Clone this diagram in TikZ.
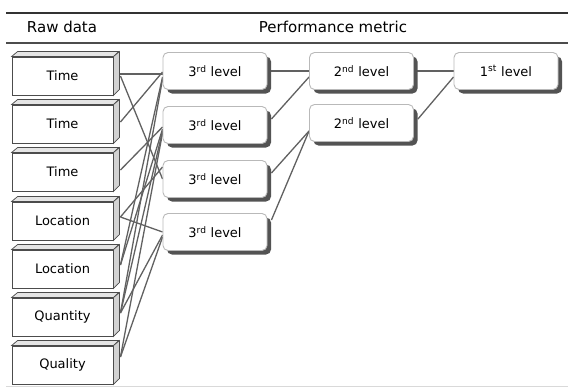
\documentclass[tikz,border=0pt]{standalone}
\usepackage{fontspec}
\setmainfont{DejaVu Sans}
\usetikzlibrary{shadows,backgrounds}
\tikzset{
  rawbox/.style={draw=gray!60!black, fill=white, line width=0.9pt, minimum width=101pt, minimum height=38pt, inner sep=0pt, font=\fontsize{13}{15}\selectfont},
  bevtop/.style={draw=gray!60!black, fill=gray!20, line width=0.7pt},
  bevside/.style={draw=gray!60!black, fill=gray!35, line width=0.7pt},
  lvlbox/.style={draw=gray!55, fill=white, rounded corners=5pt, line width=0.9pt, minimum width=104pt, minimum height=37pt, inner sep=0pt, font=\fontsize{13}{15}\selectfont, drop shadow={shadow xshift=4pt, shadow yshift=-4pt, fill=gray!65!black, opacity=1}},
  link/.style={draw=black!62, line width=1.3pt},
  hdr/.style={font=\fontsize{15}{17}\selectfont, inner sep=0pt},
  rule/.style={draw=black!80, line width=1.8pt}
}
\begin{document}
\begin{tikzpicture}[x=1pt,y=-1pt]
\useasboundingbox (0,0) rectangle (568,388);
% header
\draw[rule] (6,13) -- (568,13);
\draw[draw=gray!60!black, line width=2pt] (6,43) -- (568,43);
\draw[draw=gray!30, line width=0.8pt] (6,386) -- (568,386);
\node[hdr] (hraw) at (62,27) {Raw data};
\node[hdr] (hperf) at (333,27) {Performance metric};
% raw data boxes
\node[rawbox] (r1) at (62.5,76) {Time};
\node[rawbox] (r2) at (62.5,124) {Time};
\node[rawbox] (r3) at (62.5,172) {Time};
\node[rawbox] (r4) at (62.5,221) {Location};
\node[rawbox] (r5) at (62.5,269) {Location};
\node[rawbox] (r6) at (62.5,317) {Quantity};
\node[rawbox] (r7) at (62.5,365) {Quality};
\foreach \n in {r1,r2,r3,r4,r5,r6,r7}{
  \filldraw[bevtop] (\n.north west) -- ++(6,-5) -- ++(101,0) -- (\n.north east) -- cycle;
  \filldraw[bevside] (\n.north east) -- ++(6,-5) -- ++(0,38) -- (\n.south east) -- cycle;
}
% level boxes
\node[lvlbox] (t1) at (215,71) {3\textsuperscript{rd} level};
\node[lvlbox] (t2) at (215,125) {3\textsuperscript{rd} level};
\node[lvlbox] (t3) at (215,179) {3\textsuperscript{rd} level};
\node[lvlbox] (t4) at (215,232) {3\textsuperscript{rd} level};
\node[lvlbox] (s1) at (361.5,71) {2\textsuperscript{nd} level};
\node[lvlbox] (s2) at (361.5,123) {2\textsuperscript{nd} level};
\node[lvlbox] (f1) at (506,71) {1\textsuperscript{st} level};
% connectors
\begin{scope}[on background layer]
\fill[white] (0,0) rectangle (568,388);
\draw[link] ([xshift=7pt,yshift=2pt]r1.east) -- ([yshift=-3pt]t1.west);
\draw[link] ([xshift=7pt]r1.east) -- ([yshift=0pt]t3.west);
\draw[link] ([xshift=7pt,yshift=2pt]r2.east) -- ([yshift=-1pt]t1.west);
\draw[link] ([xshift=7pt,yshift=2pt]r3.east) -- ([yshift=-2pt]t2.west);
\draw[link] ([xshift=7pt,yshift=4pt]r4.east) -- ([yshift=12pt]t3.west);
\draw[link] ([xshift=7pt,yshift=4pt]r4.east) -- ([yshift=0pt]t4.west);
\draw[link] ([xshift=7pt,yshift=4pt]r5.east) -- ([yshift=-6pt]t1.west);
\draw[link] ([xshift=7pt,yshift=4pt]r5.east) -- ([yshift=-4pt]t2.west);
\draw[link] ([xshift=7pt,yshift=4pt]r6.east) -- ([yshift=-8pt]t1.west);
\draw[link] ([xshift=7pt,yshift=4pt]r6.east) -- ([yshift=-6pt]t2.west);
\draw[link] ([xshift=7pt,yshift=4pt]r6.east) -- ([yshift=-3pt]t4.west);
\draw[link] ([xshift=7pt,yshift=8pt]r7.east) -- ([yshift=-8pt]t2.west);
\draw[link] ([xshift=7pt,yshift=8pt]r7.east) -- ([yshift=-5pt]t4.west);
\draw[link] (t1.east) -- (s1.west);
\draw[link] ([xshift=4pt,yshift=6pt]t2.east) -- ([yshift=-6pt]s1.west);
\draw[link] ([xshift=4pt,yshift=6pt]t3.east) -- ([yshift=-8pt]s2.west);
\draw[link] ([xshift=4pt,yshift=12pt]t4.east) -- ([yshift=-8pt]s2.west);
\draw[link] (s1.east) -- (f1.west);
\draw[link] ([xshift=4pt,yshift=4pt]s2.east) -- ([yshift=-6pt]f1.west);
\end{scope}
\end{tikzpicture}
\end{document}
